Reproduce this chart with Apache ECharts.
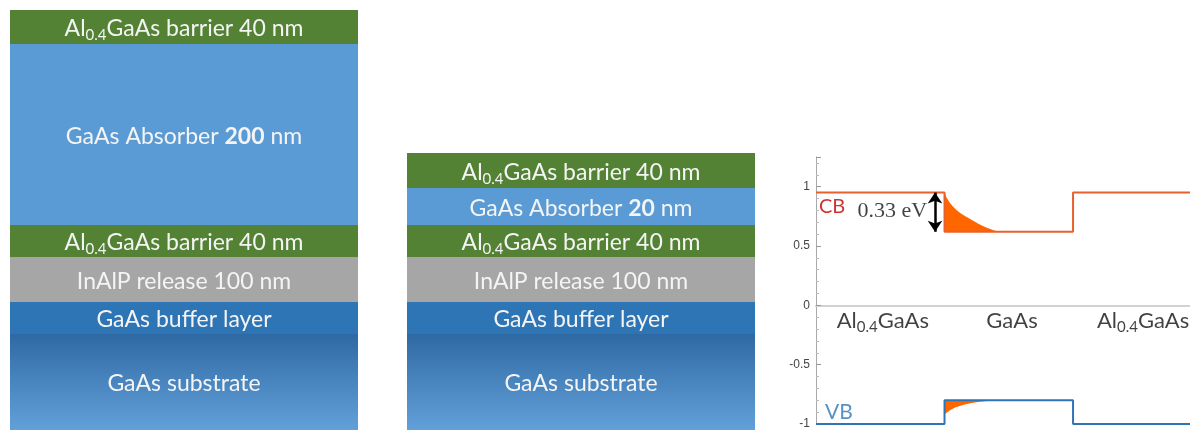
<!DOCTYPE html>
<html>
<head>
<meta charset="utf-8">
<script src="https://cdn.jsdelivr.net/npm/echarts@6/dist/echarts.min.js"></script>
<style>
  html, body { margin: 0; padding: 0; background: #fff; }
  #chart { width: 1190px; height: 430px; }
</style>
</head>
<body>
<div id="chart"></div>
<script>
// layer stacks, bottom to top (drawn thickness, not to scale)
const layerKeys = ['substrate', 'buffer', 'release', 'barrierLow', 'absorber', 'barrierTop'];
const leftHeights = [96, 32, 45, 32, 181, 34];
const middleHeights = [96, 32, 45, 32, 37, 35];
const leftLabels = [
  '{n|GaAs substrate}',
  '{n|GaAs buffer layer}',
  '{n|InAlP release 100 nm}',
  '{n|Al}{s|0.4}{n|GaAs barrier 40 nm}',
  '{n|GaAs Absorber }{b|200}{n| nm}',
  '{n|Al}{s|0.4}{n|GaAs barrier 40 nm}',
];
const middleLabels = [
  '{n|GaAs substrate}',
  '{n|GaAs buffer layer}',
  '{n|InAlP release 100 nm}',
  '{n|Al}{s|0.4}{n|GaAs barrier 40 nm}',
  '{n|GaAs Absorber }{b|20}{n| nm}',
  '{n|Al}{s|0.4}{n|GaAs barrier 40 nm}',
];

// band diagram (x: region index, y: energy in eV)
const cbLine = [[0, 0.95], [1, 0.95], [1, 0.62], [2, 0.62], [2, 0.95], [2.91, 0.95]];
const vbLine = [[0, -1], [1, -1], [1, -0.8], [2, -0.8], [2, -1], [2.91, -1]];
const cbFill = [[1, 0.95], [1.02, 0.9], [1.06, 0.84], [1.12, 0.78], [1.18, 0.74], [1.26, 0.69], [1.34, 0.65], [1.42, 0.62]];
const vbFill = [[1, -0.92], [1.05, -0.88], [1.1, -0.855], [1.2, -0.825], [1.3, -0.81], [1.41, -0.8]];
const gapArrow = [[0.926, 0.95], [0.926, 0.62]];
const yTicks = { min: -1, max: 1.25, interval: 0.5 };

const font = 'Lato';
const layerColors = {
  substrate: new echarts.graphic.LinearGradient(0, 0, 0, 1, [
    { offset: 0, color: '#2F69A3' },
    { offset: 1, color: '#62A0DA' },
  ]),
  buffer: '#2E75B6',
  release: '#A6A6A6',
  barrierLow: '#548235',
  absorber: '#5B9BD5',
  barrierTop: '#548235',
};
const layerRich = {
  n: { color: '#f4f4f4', fontSize: 23, fontFamily: font, lineHeight: 28 },
  b: { color: '#f4f4f4', fontSize: 23, fontFamily: font, fontWeight: 'bold', lineHeight: 28 },
  s: { color: '#f4f4f4', fontSize: 15, fontFamily: font, lineHeight: 13, verticalAlign: 'bottom' },
};
const annRich = {
  a: { color: '#111', fontSize: 22, fontFamily: font, lineHeight: 27 },
  s: { color: '#111', fontSize: 15, fontFamily: font, lineHeight: 13, verticalAlign: 'bottom' },
};

function stackSeries(heights, labels, gridIdx) {
  return layerKeys.map((key, i) => ({
    type: 'bar',
    name: key,
    stack: 'layers' + gridIdx,
    xAxisIndex: gridIdx,
    yAxisIndex: gridIdx,
    barWidth: '100%',
    silent: true,
    itemStyle: { color: layerColors[key] },
    label: {
      show: true,
      position: 'inside',
      offset: [0, 2],
      formatter: labels[i],
      rich: layerRich,
    },
    data: [heights[i]],
  }));
}

const chart = echarts.init(document.getElementById('chart'));

chart.setOption({
  animation: false,
  grid: [
    { left: 10, top: 10, width: 348, bottom: 0 },
    { left: 407, top: 10, width: 348, bottom: 0 },
    { left: 816, top: 157, right: 0, bottom: 3 },
  ],
  xAxis: [
    { gridIndex: 0, type: 'category', data: ['left'], show: false },
    { gridIndex: 1, type: 'category', data: ['middle'], show: false },
    {
      gridIndex: 2, type: 'value', min: 0, max: 2.91, position: 'top',
      axisLine: { show: true, lineStyle: { color: '#d2d2d2', width: 2 } },
      axisTick: { show: false }, axisLabel: { show: false }, splitLine: { show: false },
    },
  ],
  yAxis: [
    { gridIndex: 0, type: 'value', min: 0, max: 420, show: false },
    { gridIndex: 1, type: 'value', min: 0, max: 420, show: false },
    {
      gridIndex: 2, type: 'value', min: yTicks.min, max: yTicks.max, interval: yTicks.interval,
      axisLine: { show: true, lineStyle: { color: '#aaaaaa', width: 1 } },
      axisTick: { show: true, inside: true, length: 5, lineStyle: { color: '#999' } },
      minorTick: { show: true, splitNumber: 5, length: 3, lineStyle: { color: '#bbb' } },
      axisLabel: {
        color: '#444', fontSize: 12, fontFamily: 'Liberation Sans', margin: 6,
        formatter: (v) => (v > 1.1 ? '' : String(v)),
      },
      splitLine: { show: false },
    },
  ],
  series: [
    ...stackSeries(leftHeights, leftLabels, 0),
    ...stackSeries(middleHeights, middleLabels, 1),
    {
      type: 'line', xAxisIndex: 2, yAxisIndex: 2, data: cbFill, symbol: 'none', smooth: 0.3,
      lineStyle: { width: 0 }, areaStyle: { origin: 0.62, color: '#FF6600', opacity: 1 },
      clip: false, silent: true, z: 1,
    },
    {
      type: 'line', xAxisIndex: 2, yAxisIndex: 2, data: vbFill, symbol: 'none', smooth: 0.3,
      lineStyle: { width: 0 }, areaStyle: { origin: -0.8, color: '#FF6600', opacity: 1 },
      clip: false, silent: true, z: 1,
    },
    {
      type: 'line', name: 'CB', xAxisIndex: 2, yAxisIndex: 2, data: cbLine, symbol: 'none',
      lineStyle: { color: '#E8612C', width: 2 }, clip: false, silent: true, z: 3,
      markLine: {
        silent: true, symbol: ['arrow', 'arrow'], symbolSize: [11, 11],
        lineStyle: { color: '#000', width: 2.5, type: 'solid' },
        label: { show: false },
        data: [[{ coord: gapArrow[0] }, { coord: gapArrow[1] }]],
      },
    },
    {
      type: 'line', name: 'VB', xAxisIndex: 2, yAxisIndex: 2, data: vbLine, symbol: 'none',
      lineStyle: { color: '#2E75B6', width: 2 }, clip: false, silent: true, z: 3,
    },
    {
      type: 'scatter', xAxisIndex: 2, yAxisIndex: 2, symbolSize: 0, silent: true, z: 4,
      label: { show: true, position: 'inside' },
      data: [
        { value: [0.023, 0.83], label: { formatter: 'CB', align: 'left', color: '#C00000', fontSize: 20, fontFamily: font } },
        { value: [0.07, -0.9], label: { formatter: 'VB', align: 'left', color: '#2E75B6', fontSize: 21, fontFamily: font } },
        { value: [0.864, 0.79], label: { formatter: '0.33 eV', align: 'right', color: '#111', fontSize: 22, fontFamily: 'Liberation Serif' } },
        { value: [0.52, -0.13], label: { formatter: '{a|Al}{s|0.4}{a|GaAs}', rich: annRich } },
        { value: [1.525, -0.13], label: { formatter: '{a|GaAs}', rich: annRich } },
        { value: [2.545, -0.13], label: { formatter: '{a|Al}{s|0.4}{a|GaAs}', rich: annRich } },
      ],
    },
  ],
});
</script>
</body>
</html>
